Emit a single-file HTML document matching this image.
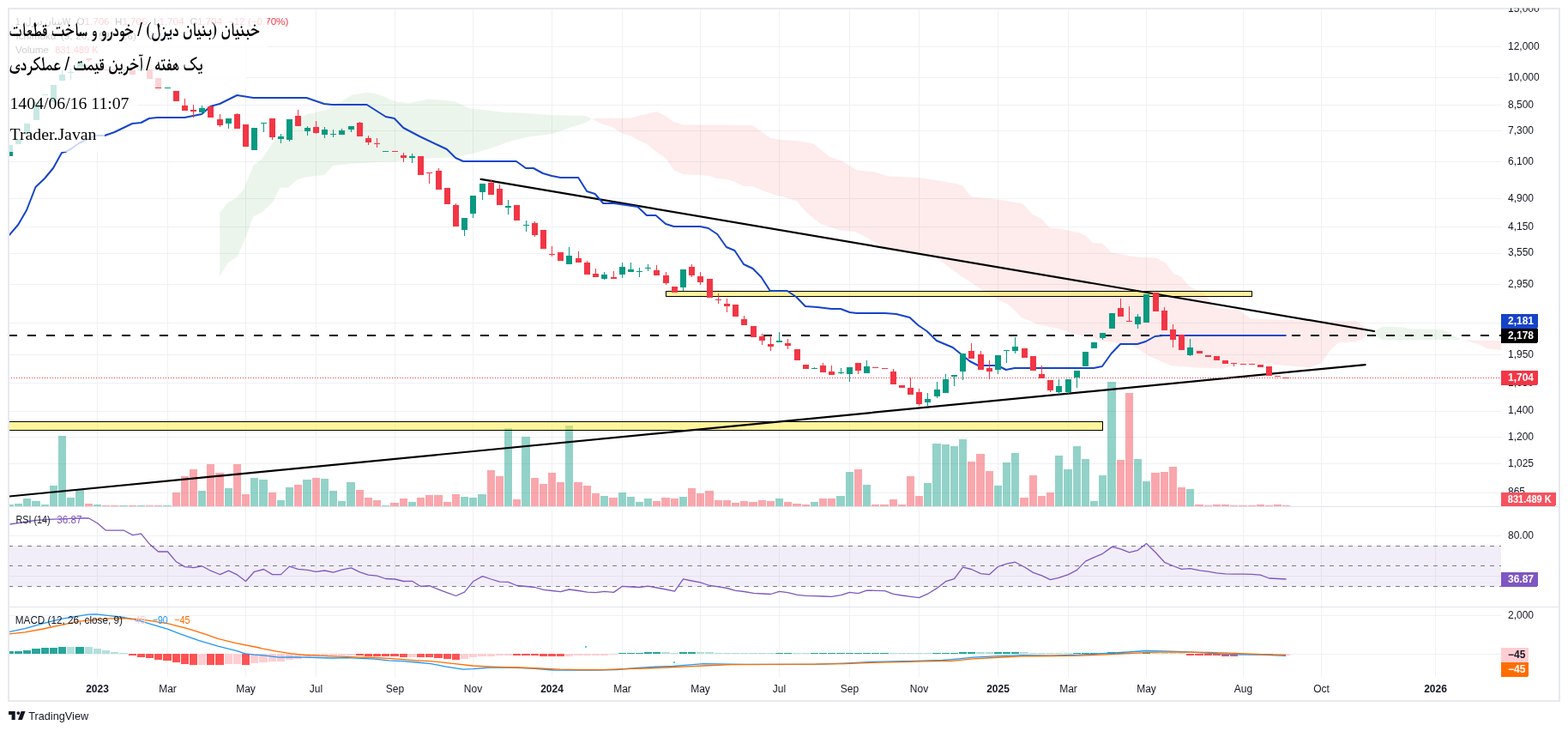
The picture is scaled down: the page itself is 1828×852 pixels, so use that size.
<!DOCTYPE html>
<html lang="en"><head><meta charset="utf-8"><title>TradingView chart</title>
<style>html,body{margin:0;padding:0;background:#fff;}body{width:1828px;height:852px;overflow:hidden;}svg{display:block;}</style></head><body>
<svg width="1828" height="852" viewBox="0 0 1828 852" shape-rendering="crispEdges" font-family="'Liberation Sans', Arial, sans-serif">
<defs><clipPath id="cm"><rect x="11" y="11" width="1739" height="579"/></clipPath><clipPath id="cr"><rect x="11" y="591" width="1739" height="116"/></clipPath><clipPath id="ck"><rect x="11" y="708" width="1739" height="81"/></clipPath><clipPath id="cax"><rect x="1750" y="11" width="67" height="805"/></clipPath><clipPath id="ctop"><rect x="1750" y="9.6" width="67" height="20"/></clipPath></defs>
<rect x="0" y="0" width="1828" height="852" fill="#fff"/>
<path d="M113.5 11V789M195.5 11V789M286.5 11V789M368.5 11V789M460.5 11V789M551.5 11V789M643.5 11V789M725.5 11V789M816.5 11V789M908.5 11V789M990.5 11V789M1071.5 11V789M1163.5 11V789M1245.5 11V789M1336.5 11V789M1449.5 11V789M1540.5 11V789M1673.5 11V789M11 54.5H1750M11 90.5H1750M11 122.5H1750M11 152.5H1750M11 188.5H1750M11 231.5H1750M11 264.5H1750M11 295.5H1750M11 331.5H1750M11 376.5H1750M11 413.5H1750M11 446.5H1750M11 479.5H1750M11 509.5H1750M11 540.5H1750M11 574.5H1750M11 624.5H1750M11 671.5H1750M11 717.5H1750M11 762.5H1750" stroke="#eff1f2" stroke-width="1" fill="none"/>
<g clip-path="url(#cm)">
<g shape-rendering="geometricPrecision">
<polygon points="256.2,247.9 265.6,236.3 275.1,230.9 284.5,220.1 295.3,193.1 304.8,185.8 321,162.1 331.8,154 345.3,140.5 358.8,132.9 383,127 396.5,118.9 410,110.8 428.6,107.5 442.8,110.6 459.7,118 476.6,120.5 499.8,115.4 529.4,118 548.4,126.4 590,131 605.8,131.6 644.5,134.2 683.2,135 689.5,138.5 684.5,142 678,144.5 665.2,148.4 644.5,156.1 613.5,160 590,166 580,170.3 554.7,178.1 529.4,183.4 499.8,184.5 459.7,188.3 440,189.1 415.4,190.4 388.4,193.1 377.7,203.9 356,206.6 346.6,209.3 335.8,218.8 326.4,218.8 318.3,235 306.1,247.1 295.3,252.5 285.9,278.1 276.4,299.2 265.6,306.5 256.2,321.9" fill="#43a047" fill-opacity="0.1"/>
<polygon points="689.5,138.5 696.9,137.9 734.9,137.5 747.6,134.3 765.6,130.1 775.1,134.7 785.6,142.1 796.2,145.5 877.5,145.9 897.6,160.7 908.2,162.8 929.3,164.3 948.3,167.5 967.3,182.9 979.7,186.8 999.4,198.6 1019.2,200.3 1036,205.6 1072.7,207.3 1112.1,213.5 1122,216.3 1131.8,229 1168.5,233.2 1192.4,237.5 1203.7,250.1 1213.5,254.4 1223.4,265.6 1236,266.5 1258.9,271.6 1265.6,274.5 1274.5,283.5 1284.6,283.5 1295.7,294.2 1323.6,299.5 1348.1,300.8 1359.3,306.9 1368.2,319.1 1377.1,322.5 1386,333.6 1401.7,340.3 1417.3,358.2 1444,361.5 1458.5,371.5 1495.3,372.7 1546.3,374.2 1581,374 1591.2,381 1591.2,393.3 1581,398.5 1560.7,399.1 1550.2,408.9 1539.7,423.4 1529.2,427.3 1526.5,428.4 1473,424 1435.1,426.2 1426.2,429.5 1395,428.4 1366,426.2 1354.8,421.7 1339.2,415 1325.8,406.1 1316.9,401.6 1283.5,397.2 1252.9,389.1 1234.8,383.4 1210.7,378.3 1191,369.9 1176.9,355.8 1162.8,348.7 1148.7,340.3 1131.8,329 1120.6,322 1103.7,309.3 1086.8,298 1058.6,292.4 1030.4,288.2 1007.9,275.5 996.6,269.9 979.7,268.5 956.8,261.1 939.9,247.3 929.3,234.7 920.9,231.5 904,227.3 891.3,223 877.5,217.3 867,216.7 855.4,211.4 846.9,208.7 836.3,208.2 825.8,204.7 796.2,203 785.6,198.3 776.1,184.4 764.5,176.6 753.9,168.1 743.4,162.8 734.9,158.2 725.4,155.4 713.8,148 703.2,144.9 689.5,138.5" fill="#f23645" fill-opacity="0.1"/>
<polygon points="1591.2,381 1596.5,388.5 1602.9,385.4 1611.6,380.8 1621.3,380.8 1635.3,381.4 1643.2,382.9 1682.5,384.1 1691.3,388.9 1702.7,395.9 1612.5,396.6 1606.4,393.3 1596.5,388.5 1591.2,393.3" fill="#43a047" fill-opacity="0.1"/>
<polygon points="1702.7,395.9 1706.4,396.5 1750,397.1 1750,408 1734,406.3 1722.2,400.4" fill="#f23645" fill-opacity="0.1"/>
</g>
<path d="M7 588H16V590H7zM17 587H26V590H17zM27 581H36V590H27zM37 584H47V590H37zM48 588H57V590H48zM58 566H67V590H58zM68 508H77V590H68zM78 580H87V590H78zM88 571H98V590H88zM109 588H118V590H109zM139 589H149V590H139zM160 589H169V590H160zM190 589H200V590H190zM231 572H240V590H231zM262 569H271V590H262zM292 557H301V590H292zM302 559H312V590H302zM323 583H332V590H323zM333 568H342V590H333zM353 559H363V590H353zM374 558H383V590H374zM384 572H393V590H384zM394 584H403V590H394zM404 562H414V590H404zM445 589H454V590H445zM476 585H485V590H476zM537 579H546V590H537zM547 580H556V590H547zM557 576H567V590H557zM588 499H597V590H588zM608 509H618V590H608zM659 496H668V590H659zM700 578H709V590H700zM721 574H730V590H721zM731 579H740V590H731zM741 585H750V590H741zM751 581H760V590H751zM792 579H801V590H792zM904 581H913V590H904zM945 585H954V590H945zM975 578H985V590H975zM986 550H995V590H986zM1006 565H1015V590H1006zM1077 563H1086V590H1077zM1087 517H1097V590H1087zM1098 518H1107V590H1098zM1108 520H1117V590H1108zM1118 512H1127V590H1118zM1159 566H1168V590H1159zM1169 539H1178V590H1169zM1179 528H1188V590H1179zM1230 531H1239V590H1230zM1240 547H1250V590H1240zM1251 520H1260V590H1251zM1261 535H1270V590H1261zM1271 584H1280V590H1271zM1281 554H1290V590H1281zM1291 445H1301V590H1291zM1322 535H1331V590H1322zM1332 561H1341V590H1332zM1383 570H1392V590H1383z" fill="#089981" fill-opacity="0.44"/>
<path d="M99 587H108V590H99zM119 589H128V590H119zM129 589H138V590H129zM150 589H159V590H150zM170 589H179V590H170zM180 589H189V590H180zM201 574H210V590H201zM211 555H220V590H211zM221 547H230V590H221zM241 541H250V590H241zM251 551H261V590H251zM272 541H281V590H272zM282 576H291V590H282zM313 574H322V590H313zM343 565H352V590H343zM364 557H373V590H364zM415 571H424V590H415zM425 580H434V590H425zM435 583H444V590H435zM455 586H465V590H455zM466 581H475V590H466zM486 580H495V590H486zM496 577H505V590H496zM506 577H516V590H506zM517 585H526V590H517zM527 576H536V590H527zM568 548H577V590H568zM578 555H587V590H578zM598 582H607V590H598zM619 557H628V590H619zM629 564H638V590H629zM639 551H648V590H639zM649 562H658V590H649zM669 562H679V590H669zM680 566H689V590H680zM690 575H699V590H690zM710 580H720V590H710zM761 584H770V590H761zM771 580H781V590H771zM782 581H791V590H782zM802 569H811V590H802zM812 575H821V590H812zM822 572H832V590H822zM833 583H842V590H833zM843 583H852V590H843zM853 586H862V590H853zM863 584H872V590H863zM873 585H883V590H873zM884 583H893V590H884zM894 584H903V590H894zM914 585H923V590H914zM924 587H934V590H924zM935 588H944V590H935zM955 581H964V590H955zM965 581H974V590H965zM996 547H1005V590H996zM1016 588H1025V590H1016zM1026 588H1036V590H1026zM1037 582H1046V590H1037zM1047 588H1056V590H1047zM1057 555H1066V590H1057zM1067 578H1076V590H1067zM1128 538H1137V590H1128zM1138 529H1148V590H1138zM1149 549H1158V590H1149zM1189 580H1199V590H1189zM1200 554H1209V590H1200zM1210 578H1219V590H1210zM1220 574H1229V590H1220zM1302 536H1311V590H1302zM1312 458H1321V590H1312zM1342 551H1352V590H1342zM1353 550H1362V590H1353zM1363 544H1372V590H1363zM1373 568H1382V590H1373zM1393 588H1403V590H1393zM1404 589H1413V590H1404zM1414 588H1423V590H1414zM1424 588H1433V590H1424zM1434 589H1443V590H1434zM1444 589H1454V590H1444zM1455 589H1464V590H1455zM1465 588H1474V590H1465zM1475 589H1484V590H1475zM1485 588H1494V590H1485zM1495 589H1504V590H1495z" fill="#f23645" fill-opacity="0.44"/>
<rect x="776.5" y="339.5" width="683" height="6" fill="rgba(255,235,59,0.5)" stroke="#000" stroke-width="1"/>
<rect x="5.5" y="491.5" width="1280" height="10" fill="rgba(255,235,59,0.5)" stroke="#000" stroke-width="1"/>
<g shape-rendering="geometricPrecision" stroke="#000" stroke-width="2.2" stroke-linecap="round">
<line x1="560.6" y1="208.8" x2="1602" y2="386"/>
<line x1="10" y1="578.6" x2="1591.6" y2="425.1"/>
</g>
<path d="M10 391H1750" stroke="#000" stroke-width="2" stroke-dasharray="10 12" fill="none"/>
<path d="M10 440.5H1750" stroke="#f23645" stroke-width="1" stroke-dasharray="1 2" fill="none"/>
<polyline points="10,275 21.1,262 31,245 41.5,218 52,208 62,196 72,178 76,177 82,174 92,167 102,162 112,158 122,158 133.5,154 154.2,144 164.5,143 173.9,138 183.3,137 215.2,137 235.2,133 245.4,124 256.2,121 276.4,111 295.3,114 357.4,114 377.7,121 387.1,122 427.6,122 449.6,136 459.7,138 470.3,149 489.3,159 510.4,169 521,174 531.1,184 540,188 601.9,188 613,196 621.8,196 632.9,202 643.2,205 653.5,207 674.2,207 684.2,223 693.7,226 703.2,237 715.9,237 743.4,241 753.9,251 764.5,251 776.1,261 785.6,264 816.3,264 825.8,266 836.3,273 846.9,288 856.5,292 867,308 877.6,313 887.5,323 897.8,339 917.8,339 928.2,346 938.9,357 952.9,358 969.3,360 980,360 990.6,364 998.9,365 1031.7,365 1044.8,366 1060.5,370 1070.3,379 1080.6,386 1091.8,397 1110.8,405 1120.7,413 1130.6,421 1140.4,426 1163,426 1172.8,431 1182.7,429 1275,429 1284.9,427 1295.6,412 1306.2,401 1326,401 1335.8,398 1346.5,392 1356.3,391 1499.6,391" fill="none" stroke="#1644c8" stroke-width="2" stroke-linejoin="round" shape-rendering="geometricPrecision"/>
<path d="M8 169h7V182h-7zM18 162h7V168h-7zM28 144h7V156h-7zM39 119h7V140h-7zM49 110h7V111h-7zM59 99h7V119h-7zM69 87h7V94h-7zM72 82h1V87h-1zM79 84h7V85h-7zM82 80h1V84h-1zM82 85h1V93h-1zM90 72h7V78h-7zM110 74h7V75h-7zM141 81h7V82h-7zM144 82h1V85h-1zM161 81h7V82h-7zM192 102h7V103h-7zM232 126h7V131h-7zM235 123h1V126h-1zM235 131h1V133h-1zM263 138h7V144h-7zM266 144h1V150h-1zM293 149h7V175h-7zM304 143h7V144h-7zM307 144h1V154h-1zM324 159h7V162h-7zM327 156h1V159h-1zM327 162h1V167h-1zM334 139h7V163h-7zM337 163h1V165h-1zM355 149h7V153h-7zM358 147h1V149h-1zM358 153h1V158h-1zM375 151h7V157h-7zM378 148h1V151h-1zM378 157h1V161h-1zM385 156h7V157h-7zM388 151h1V156h-1zM388 157h1V160h-1zM395 152h7V157h-7zM398 150h1V152h-1zM406 147h7V151h-7zM409 151h1V154h-1zM446 176h7V177h-7zM477 182h7V184h-7zM480 179h1V182h-1zM480 184h1V190h-1zM538 254h7V268h-7zM541 268h1V275h-1zM548 228h7V249h-7zM551 249h1V254h-1zM559 214h7V224h-7zM562 224h1V233h-1zM589 240h7V242h-7zM592 233h1V240h-1zM592 242h1V250h-1zM610 262h7V263h-7zM613 257h1V262h-1zM613 263h1V270h-1zM660 298h7V308h-7zM663 288h1V298h-1zM701 320h7V325h-7zM704 317h1V320h-1zM704 325h1V326h-1zM722 311h7V320h-7zM725 306h1V311h-1zM725 320h1V324h-1zM732 314h7V317h-7zM735 306h1V314h-1zM742 316h7V317h-7zM745 312h1V316h-1zM745 317h1V323h-1zM752 312h7V313h-7zM755 308h1V312h-1zM755 313h1V316h-1zM793 314h7V335h-7zM796 335h1V339h-1zM905 397h7V399h-7zM908 387h1V397h-1zM946 429h7V430h-7zM949 428h1V429h-1zM977 434h7V435h-7zM980 429h1V434h-1zM980 435h1V436h-1zM987 428h7V436h-7zM990 436h1V445h-1zM1007 427h7V435h-7zM1010 420h1V427h-1zM1078 465h7V469h-7zM1081 458h1V465h-1zM1081 469h1V474h-1zM1089 454h7V462h-7zM1092 445h1V454h-1zM1092 462h1V464h-1zM1099 442h7V458h-7zM1102 436h1V442h-1zM1109 437h7V439h-7zM1112 439h1V450h-1zM1119 412h7V433h-7zM1122 433h1V443h-1zM1160 414h7V431h-7zM1163 431h1V436h-1zM1170 408h7V409h-7zM1173 409h1V423h-1zM1180 404h7V409h-7zM1183 393h1V404h-1zM1183 409h1V412h-1zM1231 450h7V457h-7zM1234 442h1V450h-1zM1234 457h1V460h-1zM1242 442h7V457h-7zM1245 457h1V459h-1zM1252 432h7V440h-7zM1255 440h1V452h-1zM1262 410h7V427h-7zM1272 399h7V406h-7zM1282 388h7V394h-7zM1285 394h1V396h-1zM1293 365h7V383h-7zM1323 369h7V378h-7zM1326 366h1V369h-1zM1326 378h1V383h-1zM1333 343h7V376h-7zM1384 405h7V414h-7zM1387 395h1V405h-1zM1387 414h1V415h-1z" fill="#089981"/>
<path d="M100 68h7V70h-7zM103 70h1V72h-1zM120 81h7V82h-7zM130 81h7V82h-7zM151 82h7V87h-7zM171 81h7V92h-7zM181 91h7V103h-7zM202 106h7V118h-7zM212 123h7V129h-7zM215 115h1V123h-1zM222 128h7V130h-7zM225 122h1V128h-1zM225 130h1V137h-1zM242 124h7V137h-7zM253 139h7V146h-7zM256 133h1V139h-1zM256 146h1V148h-1zM273 133h7V150h-7zM276 132h1V133h-1zM283 145h7V171h-7zM314 138h7V160h-7zM317 160h1V163h-1zM344 135h7V147h-7zM347 128h1V135h-1zM365 148h7V155h-7zM368 141h1V148h-1zM368 155h1V156h-1zM416 143h7V159h-7zM419 142h1V143h-1zM426 161h7V166h-7zM429 158h1V161h-1zM429 166h1V169h-1zM436 167h7V168h-7zM439 161h1V167h-1zM439 168h1V172h-1zM457 176h7V177h-7zM467 181h7V184h-7zM470 178h1V181h-1zM470 184h1V189h-1zM487 182h7V204h-7zM497 201h7V202h-7zM500 202h1V214h-1zM508 199h7V221h-7zM511 196h1V199h-1zM518 219h7V238h-7zM528 239h7V264h-7zM531 237h1V239h-1zM569 213h7V227h-7zM572 209h1V213h-1zM579 220h7V239h-7zM582 215h1V220h-1zM599 239h7V257h-7zM620 260h7V274h-7zM623 258h1V260h-1zM623 274h1V276h-1zM630 268h7V290h-7zM640 296h7V297h-7zM643 287h1V296h-1zM643 297h1V299h-1zM650 294h7V304h-7zM671 301h7V306h-7zM674 293h1V301h-1zM681 306h7V320h-7zM684 304h1V306h-1zM691 319h7V323h-7zM694 313h1V319h-1zM712 323h7V325h-7zM715 316h1V323h-1zM762 315h7V321h-7zM765 309h1V315h-1zM773 321h7V330h-7zM776 317h1V321h-1zM776 330h1V332h-1zM783 334h7V341h-7zM803 311h7V321h-7zM806 308h1V311h-1zM806 321h1V323h-1zM813 322h7V329h-7zM816 317h1V322h-1zM816 329h1V332h-1zM824 325h7V347h-7zM834 349h7V350h-7zM837 342h1V349h-1zM837 350h1V354h-1zM844 354h7V357h-7zM847 348h1V354h-1zM847 357h1V364h-1zM854 355h7V369h-7zM864 372h7V379h-7zM867 368h1V372h-1zM875 380h7V393h-7zM885 392h7V397h-7zM888 389h1V392h-1zM888 397h1V402h-1zM895 401h7V404h-7zM898 391h1V401h-1zM898 404h1V409h-1zM915 400h7V403h-7zM918 395h1V400h-1zM918 403h1V407h-1zM926 407h7V420h-7zM936 425h7V430h-7zM956 426h7V434h-7zM959 423h1V426h-1zM966 433h7V437h-7zM969 426h1V433h-1zM997 423h7V432h-7zM1000 432h1V436h-1zM1017 428h7V429h-7zM1028 429h7V430h-7zM1038 433h7V448h-7zM1041 430h1V433h-1zM1048 449h7V452h-7zM1058 452h7V460h-7zM1061 440h1V452h-1zM1068 457h7V471h-7zM1071 453h1V457h-1zM1071 471h1V473h-1zM1129 409h7V418h-7zM1132 400h1V409h-1zM1140 413h7V431h-7zM1143 409h1V413h-1zM1150 429h7V433h-7zM1153 420h1V429h-1zM1153 433h1V442h-1zM1191 406h7V417h-7zM1201 415h7V432h-7zM1211 436h7V441h-7zM1214 426h1V436h-1zM1221 443h7V455h-7zM1224 455h1V457h-1zM1303 359h7V369h-7zM1306 348h1V359h-1zM1313 374h7V375h-7zM1316 357h1V374h-1zM1344 341h7V363h-7zM1354 362h7V385h-7zM1357 358h1V362h-1zM1364 384h7V396h-7zM1367 378h1V384h-1zM1367 396h1V405h-1zM1374 390h7V408h-7zM1395 409h7V412h-7zM1405 414h7V416h-7zM1415 415h7V420h-7zM1425 420h7V424h-7zM1435 423h7V424h-7zM1438 424h1V427h-1zM1446 424h7V425h-7zM1456 424h7V425h-7zM1466 425h7V428h-7zM1476 427h7V438h-7zM1486 438h7V439h-7zM1496 440h7V441h-7z" fill="#f23645"/>
</g>
<g font-size="11.6">
<text x="18" y="28.5" fill="#131722" textLength="64" lengthAdjust="spacingAndGlyphs">بنیان دیزل, 1W</text>
<text y="28.5"><tspan x="89.5" fill="#131722">O</tspan><tspan fill="#f23645">1,706</tspan><tspan x="134" fill="#131722">H</tspan><tspan fill="#f23645">1,706</tspan><tspan x="179" fill="#131722">L</tspan><tspan fill="#f23645">1,704</tspan><tspan x="221.5" fill="#131722">C</tspan><tspan fill="#f23645">1,704</tspan><tspan x="266" fill="#f23645">−12 (−0.70%)</tspan></text>
<text x="18.4" y="45.5" fill="#131722" textLength="47" lengthAdjust="spacingAndGlyphs">Ichimoku</text>
<text y="45.5" fill="#131722"><tspan x="70.9">(9,</tspan><tspan x="88.4">26,</tspan><tspan x="115.3">52,</tspan><tspan x="142">26)</tspan></text>
<text x="175.4" y="45.5" fill="#1644c8" textLength="26.8" lengthAdjust="spacingAndGlyphs">2,181</text>
<text x="18" y="62" fill="#131722" textLength="39" lengthAdjust="spacingAndGlyphs">Volume</text>
<text x="64.2" y="62" fill="#f23645" textLength="50.5" lengthAdjust="spacingAndGlyphs">831.489 K</text>
</g>
<g fill="#fff" fill-opacity="0.78">
<rect x="11" y="11" width="301" height="46"/>
<rect x="11" y="57" width="276" height="45"/>
<rect x="11" y="102" width="150" height="37"/>
<rect x="11" y="139" width="111" height="38"/>
</g>
<g fill="#000" font-family="'FreeSerif', 'Noto Naskh Arabic', 'DejaVu Sans', 'Liberation Serif', serif" font-size="23" font-weight="bold">
<text x="10.5" y="42" textLength="292.5" lengthAdjust="spacingAndGlyphs">خبنیان (بنیان دیزل) / خودرو و ساخت قطعات</text>
<text x="10.5" y="81.5" textLength="226" lengthAdjust="spacingAndGlyphs">یک هفته / آخرین قیمت / عملکردی</text>
</g>
<g fill="#000" font-family="'Liberation Serif', 'Times New Roman', serif" font-size="19.6">
<text x="11.5" y="127" textLength="139" lengthAdjust="spacingAndGlyphs">1404/06/16 11:07</text>
<text x="11.5" y="163" textLength="101" lengthAdjust="spacingAndGlyphs">Trader.Javan</text>
</g>
<g clip-path="url(#cr)">
<rect x="11" y="636" width="1739" height="47.5" fill="#7e57c2" fill-opacity="0.1"/>
<path d="M10 636.5H1750M10 659.5H1750M10 683.5H1750" stroke="#787b86" stroke-width="1" stroke-dasharray="5 6" fill="none"/>
<polyline points="11.5,611 21.5,609.7 31.5,608 42.5,606.4 52.5,605.6 62.5,605.2 72.5,604.8 82.5,604.4 93.5,604 103.5,604 113.5,609.7 123.5,618.2 133.5,618.2 144.5,618.2 154.5,623.6 164.5,622.2 174.5,634.3 184.5,643 195.5,643 205.5,654.8 215.5,660.6 225.5,661.7 235.5,659.8 245.5,665.2 256.5,669.6 266.5,665.2 276.5,669.9 286.5,677.5 296.5,666.3 307.5,663.5 317.5,669.6 327.5,669.6 337.5,660.1 347.5,663.4 358.5,664.3 368.5,666.3 378.5,665 388.5,667.1 398.5,664.2 409.5,661.9 419.5,666.8 429.5,670.1 439.5,671.2 449.5,674.5 460.5,675 470.5,677.5 480.5,677.3 490.5,683.5 500.5,682.7 511.5,687.2 521.5,690.9 531.5,694.5 541.5,690.1 551.5,677.8 562.5,671.6 572.5,675 582.5,678.1 592.5,678.3 602.5,682.5 613.5,683.5 623.5,684.5 633.5,687.4 643.5,688.5 653.5,689.6 663.5,687 674.5,688.5 684.5,690.2 694.5,690.6 704.5,689.4 715.5,690.4 725.5,683.3 735.5,684 745.5,684.5 755.5,683.2 765.5,685 776.5,687 786.5,689.1 796.5,674.8 806.5,677 816.5,678.9 827.5,682.5 837.5,683.8 847.5,685.5 857.5,688.3 867.5,689.5 878.5,691.3 888.5,692 898.5,692.5 908.5,689.3 918.5,690.6 929.5,693.3 939.5,694.4 949.5,694.7 959.5,695 969.5,695.3 980.5,693.6 990.5,690.3 1000.5,691.7 1010.5,688.1 1020.5,688.3 1031.5,688.6 1041.5,692.4 1051.5,694 1061.5,695.3 1071.5,696.6 1081.5,692.2 1092.5,685.4 1102.5,677.7 1112.5,674.7 1122.5,661.2 1132.5,663.5 1143.5,668.7 1153.5,669.6 1163.5,660.5 1173.5,657.2 1183.5,655.2 1194.5,661 1204.5,667.4 1214.5,670.9 1224.5,675.6 1234.5,673.4 1245.5,669.6 1255.5,664.4 1265.5,654.1 1275.5,649.6 1285.5,645.3 1296.5,637.4 1306.5,639.9 1316.5,643.8 1326.5,641.3 1336.5,633.5 1347.5,644.2 1357.5,655.3 1367.5,659.5 1377.5,663.4 1387.5,662.7 1398.5,664.8 1408.5,666.2 1418.5,667.8 1428.5,668.8 1438.5,669.1 1449.5,669.2 1459.5,669.4 1469.5,670.1 1479.5,674 1489.5,674.5 1499.5,675" fill="none" stroke="#7e57c2" stroke-width="1.3" stroke-linejoin="round" shape-rendering="geometricPrecision"/>
</g>
<g font-size="12.4" lengthAdjust="spacingAndGlyphs">
<text x="18.6" y="609.8" fill="#131722" textLength="40.1" lengthAdjust="spacingAndGlyphs">RSI (14)</text>
<text x="66.3" y="609.8" fill="#7e57c2" textLength="29.2" lengthAdjust="spacingAndGlyphs">36.87</text>
</g>
<g clip-path="url(#ck)">
<path d="M7 759H16V762H7zM17 759H26V762H17zM27 758H36V762H27zM37 756H47V762H37zM48 755H57V762H48zM58 755H67V762H58zM68 754H77V762H68zM88 754H98V762H88zM721 761H730V762H721zM731 761H740V762H731zM741 761H750V762H741zM751 760H760V762H751zM761 760H770V762H761zM792 760H801V762H792zM802 760H811V762H802zM904 761H913V762H904zM914 761H923V762H914zM945 761H954V762H945zM955 761H964V762H955zM965 761H974V762H965zM975 761H985V762H975zM986 761H995V762H986zM996 761H1005V762H996zM1006 761H1015V762H1006zM1016 761H1025V762H1016zM1026 761H1036V762H1026zM1087 761H1097V762H1087zM1098 761H1107V762H1098zM1108 761H1117V762H1108zM1118 760H1127V762H1118zM1128 760H1137V762H1128zM1159 760H1168V762H1159zM1169 760H1178V762H1169zM1179 760H1188V762H1179zM1251 761H1260V762H1251zM1261 761H1270V762H1261zM1271 761H1280V762H1271zM1281 761H1290V762H1281zM1291 760H1301V762H1291zM1302 760H1311V762H1302zM1332 760H1341V762H1332z" fill="#26a69a"/>
<path d="M78 754H87V762H78zM99 754H108V762H99zM109 756H118V762H109zM119 758H128V762H119zM129 760H138V762H129zM139 761H149V762H139zM771 760H781V762H771zM782 761H791V762H782zM812 760H821V762H812zM822 760H832V762H822zM833 761H842V762H833zM843 761H852V762H843zM853 761H862V762H853zM863 761H872V762H863zM873 761H883V762H873zM884 761H893V762H884zM894 761H903V762H894zM924 761H934V762H924zM935 761H944V762H935zM1037 761H1046V762H1037zM1047 761H1056V762H1047zM1057 761H1066V762H1057zM1067 761H1076V762H1067zM1077 761H1086V762H1077zM1138 760H1148V762H1138zM1149 760H1158V762H1149zM1189 760H1199V762H1189zM1200 761H1209V762H1200zM1210 761H1219V762H1210zM1220 761H1229V762H1220zM1230 761H1239V762H1230zM1240 761H1250V762H1240zM1312 761H1321V762H1312zM1322 761H1331V762H1322zM1342 761H1352V762H1342zM1353 761H1362V762H1353zM1363 761H1372V762H1363zM1373 761H1382V762H1373z" fill="#b2dfdb"/>
<path d="M150 762H159V764H150zM160 762H169V766H160zM170 762H179V767H170zM180 762H189V769H180zM190 762H200V770H190zM201 762H210V772H201zM211 762H220V774H211zM221 762H230V775H221zM241 762H250V775H241zM251 762H261V775H251zM282 762H291V775H282zM415 762H424V764H415zM425 762H434V765H425zM435 762H444V765H435zM445 762H454V765H445zM455 762H465V765H455zM466 762H475V766H466zM486 762H495V766H486zM496 762H505V766H496zM506 762H516V767H506zM517 762H526V768H517zM527 762H536V769H527zM598 762H607V764H598zM608 762H618V764H608zM619 762H628V764H619zM629 762H638V765H629zM639 762H648V765H639zM649 762H658V765H649zM1383 762H1392V764H1383zM1393 762H1403V764H1393zM1404 762H1413V764H1404zM1414 762H1423V764H1414zM1424 762H1433V765H1424zM1434 762H1443V765H1434zM1475 762H1484V764H1475z" fill="#ff5252"/>
<path d="M231 762H240V775H231zM262 762H271V774H262zM272 762H281V774H272zM292 762H301V773H292zM302 762H312V772H302zM313 762H322V771H313zM323 762H332V771H323zM333 762H342V769H333zM343 762H352V768H343zM353 762H363V766H353zM364 762H373V765H364zM374 762H383V765H374zM384 762H393V764H384zM394 762H403V764H394zM404 762H414V764H404zM476 762H485V766H476zM537 762H546V768H537zM547 762H556V766H547zM557 762H567V765H557zM568 762H577V765H568zM578 762H587V764H578zM588 762H597V764H588zM659 762H668V765H659zM669 762H679V764H669zM680 762H689V764H680zM690 762H699V764H690zM700 762H709V764H700zM710 762H720V763H710zM1444 762H1454V764H1444zM1455 762H1464V764H1455zM1465 762H1474V764H1465zM1485 762H1494V764H1485zM1495 762H1504V764H1495z" fill="#ffcdd2"/>
<polyline points="10,736.5 29.1,732.6 50.3,726.7 71.4,721.4 92.5,717.9 103.1,716.2 112.2,715.9 127.7,717.6 143.8,719.5 165.6,724.4 195.2,733.2 209.4,738.6 231.3,746.3 253.2,752.9 275.1,758.3 286,761.8 296.6,763.1 307.3,763.8 325.3,766.2 338.5,765.9 354.9,766.1 371.3,766.5 387.7,767 404.1,766.7 420.5,767.4 437,768.2 453.4,769.8 469.8,770.6 486.2,772 502.6,773.6 519,776.9 539.8,780.1 551.3,779.6 571,778 595.6,778 620.3,779 644.9,781 669.5,781.1 694.1,781.1 718.7,780.5 743.4,778.5 759.8,777.3 784.4,776.5 800.8,775.2 820,773.6 869.2,774.4 902.1,774.4 951.3,774.1 984.1,773.1 1017,771.4 1066.2,770.3 1099,769.5 1110,768.6 1134.6,766.2 1159.2,764.9 1192.1,763.7 1224.9,764.1 1257.7,763.2 1290.5,761.3 1315.2,760 1336.5,758.5 1356.2,758.8 1380.8,759.6 1410,761.3 1440,762.8 1470,763 1499,764.3" fill="none" stroke="#2196f3" stroke-width="1.3" stroke-linejoin="round" shape-rendering="geometricPrecision"/>
<polyline points="10,739 29.1,736.9 50.3,733 71.4,728.4 92.5,724.2 113.6,722.1 127.7,720.9 146,720.6 165.6,722.2 195.2,726.6 220.4,733.2 240,739.3 253.2,744.1 275.1,749.6 300,754.5 305.6,755.9 322.1,759.2 338.5,761.6 354.9,763.3 371.3,764.1 387.7,764.9 404.1,765.4 420.5,766.1 437,766.5 453.4,767.4 469.8,768.7 486.2,769.8 502.6,770.6 519,772.3 530,773.6 551.3,776 579.2,777.3 603.9,778 628.5,779 653.1,780.1 677.7,780.6 702.3,780.6 727,779.6 751.6,779 776.2,778 800.8,776.9 820,776 852.8,774.7 902.1,774.4 951.3,774.1 984.1,773.6 1017,772.4 1066.2,771.1 1099,770.3 1110,770.3 1134.6,767.8 1159.2,766.5 1192.1,764.9 1224.9,764.5 1257.7,764.1 1290.5,762.9 1315.2,761.6 1339.8,760.4 1364.4,759.9 1389,760.1 1410,760.4 1440,761.3 1470,762.6 1499,763.3" fill="none" stroke="#ff6d00" stroke-width="1.3" stroke-linejoin="round" shape-rendering="geometricPrecision"/>
<rect x="682" y="753" width="2" height="2" fill="#4dd0e1"/>
<rect x="785" y="771" width="2" height="2" fill="#4dd0e1"/>
</g>
<g font-size="12.4">
<text x="17.8" y="727" fill="#131722" textLength="125.1" lengthAdjust="spacingAndGlyphs">MACD (12, 26, close, 9)</text>
<text x="151.1" y="727" fill="#ffcdd2" textLength="18.5" lengthAdjust="spacingAndGlyphs">−45</text>
<text x="177.8" y="727" fill="#2196f3" textLength="17.8" lengthAdjust="spacingAndGlyphs">−90</text>
<text x="203.1" y="727" fill="#ff6d00" textLength="18.5" lengthAdjust="spacingAndGlyphs">−45</text>
</g>
<g clip-path="url(#cax)" font-size="12" fill="#131722">
<text x="1758" y="57.8">12,000</text>
<text x="1758" y="93.8">10,000</text>
<text x="1758" y="125.9">8,500</text>
<text x="1758" y="156">7,300</text>
<text x="1758" y="191.5">6,100</text>
<text x="1758" y="234.7">4,900</text>
<text x="1758" y="267.6">4,150</text>
<text x="1758" y="298.4">3,550</text>
<text x="1758" y="335">2,950</text>
<text x="1758" y="379.9">2,350</text>
<text x="1758" y="416.8">1,950</text>
<text x="1758" y="449.8">1,650</text>
<text x="1758" y="482.3">1,400</text>
<text x="1758" y="512.8">1,200</text>
<text x="1758" y="543.9">1,025</text>
<text x="1758" y="577.4">865</text>
<text x="1758" y="627.8">80.00</text>
<text x="1758" y="721.3">2,000</text>
</g>
<path d="M1750 366H1791q2 0 2 2V381q0 2 -2 2H1750z" fill="#1644c8"/>
<text x="1758" y="378.1" font-size="12" font-weight="bold" fill="#fff">2,181</text>
<path d="M1750 383H1791q2 0 2 2V398q0 2 -2 2H1750z" fill="#000000"/>
<text x="1758" y="395.1" font-size="12" font-weight="bold" fill="#fff">2,178</text>
<path d="M1750 432H1791q2 0 2 2V447q0 2 -2 2H1750z" fill="#f23645"/>
<text x="1758" y="444.1" font-size="12" font-weight="bold" fill="#fff">1,704</text>
<path d="M1750 574H1812q2 0 2 2V588q0 2 -2 2H1750z" fill="#f5525f"/>
<text x="1757.8" y="585.6" font-size="12" font-weight="bold" fill="#fff" textLength="51" lengthAdjust="spacingAndGlyphs">831.489 K</text>
<path d="M1750 667H1791q2 0 2 2V682q0 2 -2 2H1750z" fill="#7e57c2"/>
<text x="1758" y="679.1" font-size="12" font-weight="bold" fill="#fff">36.87</text>
<path d="M1750 755H1780q2 0 2 2V770q0 2 -2 2H1750z" fill="#ffcdd2"/>
<text x="1758" y="767.1" font-size="12" font-weight="bold" fill="#131722">−45</text>
<path d="M1750 772H1780q2 0 2 2V787q0 2 -2 2H1750z" fill="#ff6d00"/>
<text x="1758" y="784.1" font-size="12" font-weight="bold" fill="#fff">−45</text>
<g font-size="12" fill="#131722" text-anchor="middle">
<text x="113.5" y="807.3" font-weight="bold">2023</text>
<text x="195.5" y="807.3">Mar</text>
<text x="286.5" y="807.3">May</text>
<text x="368.5" y="807.3">Jul</text>
<text x="460.5" y="807.3">Sep</text>
<text x="551.5" y="807.3">Nov</text>
<text x="643.5" y="807.3" font-weight="bold">2024</text>
<text x="725.5" y="807.3">Mar</text>
<text x="816.5" y="807.3">May</text>
<text x="908.5" y="807.3">Jul</text>
<text x="990.5" y="807.3">Sep</text>
<text x="1071.5" y="807.3">Nov</text>
<text x="1163.5" y="807.3" font-weight="bold">2025</text>
<text x="1245.5" y="807.3">Mar</text>
<text x="1336.5" y="807.3">May</text>
<text x="1449.5" y="807.3">Aug</text>
<text x="1540.5" y="807.3">Oct</text>
<text x="1673.5" y="807.3" font-weight="bold">2026</text>
</g>
<path d="M11 590.5H1817M11 707.5H1817" stroke="#e0e3eb" stroke-width="1" fill="none"/>
<rect x="10" y="10" width="1808" height="807" fill="none" stroke="#e7e9ee" stroke-width="2"/>
<text x="1758" y="13.7" font-size="12" fill="#131722" clip-path="url(#ctop)">15,000</text>
<g fill="#131722" shape-rendering="geometricPrecision">
<path d="M10 829.1H17.7V839H13.6V833.1H10z"/>
<circle cx="21.3" cy="831.1" r="1.9"/>
<path d="M24.6 829.1H29.5L25.9 839H21z"/>
<text x="33.2" y="839" font-size="12.6" textLength="70" lengthAdjust="spacingAndGlyphs">TradingView</text>
</g>
</svg></body></html>
